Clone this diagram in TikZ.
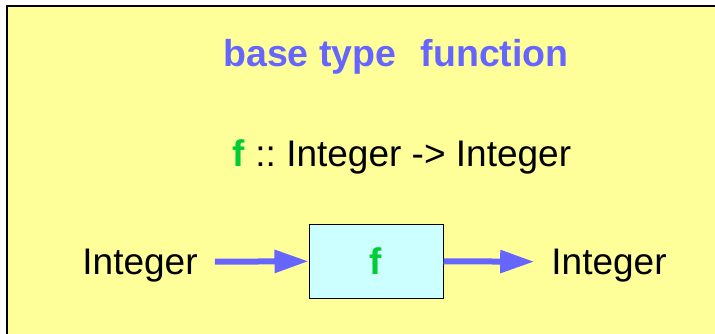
\documentclass[tikz,border=0pt]{standalone}
\usepackage{fontspec}
\setmainfont{Liberation Sans}
\usepackage{tikz}
\usetikzlibrary{arrows.meta}

\definecolor{padyellow}{HTML}{FFFF99}
\definecolor{typeblue}{HTML}{6666FF}
\definecolor{fgreen}{HTML}{00CC33}
\definecolor{boxcyan}{HTML}{CCFFFF}

\frenchspacing
\begin{document}
\begin{tikzpicture}[x=1pt,y=-1pt,font=\fontsize{37}{44}\selectfont,
	flow/.style={-{Triangle[length=34pt,width=22pt]},line width=6pt,typeblue},
	type node/.style={inner xsep=17pt,text depth=0pt},
	fun node/.style={draw=black,line width=1pt,fill=boxcyan,minimum width=134pt,minimum height=74pt,font=\fontsize{37}{44}\selectfont\bfseries,text=fgreen}]
	\useasboundingbox (0,0) rectangle (715,334);
	% background sheet
	\fill[padyellow] (7,6) rectangle (730,350);
	\draw[line width=2pt] (7,350) -- (7,6) -- (730,6);

	\node[anchor=base,text=typeblue,font=\fontsize{37.5}{45}\selectfont\bfseries] (title) at (396,67) {base type\hspace{0.65em}function};
	\node[anchor=base] (sig) at (402,167) {\textcolor{fgreen}{\bfseries f} :: Integer -> Integer};

	\node[type node] (in) at (140,262) {Integer};
	\node[fun node] (f) at (376,261) {f};
	\node[type node] (out) at (609,262) {Integer};

	\draw[flow] (in) -- (f);
	\draw[flow] (f) -- (out);
\end{tikzpicture}
\end{document}
